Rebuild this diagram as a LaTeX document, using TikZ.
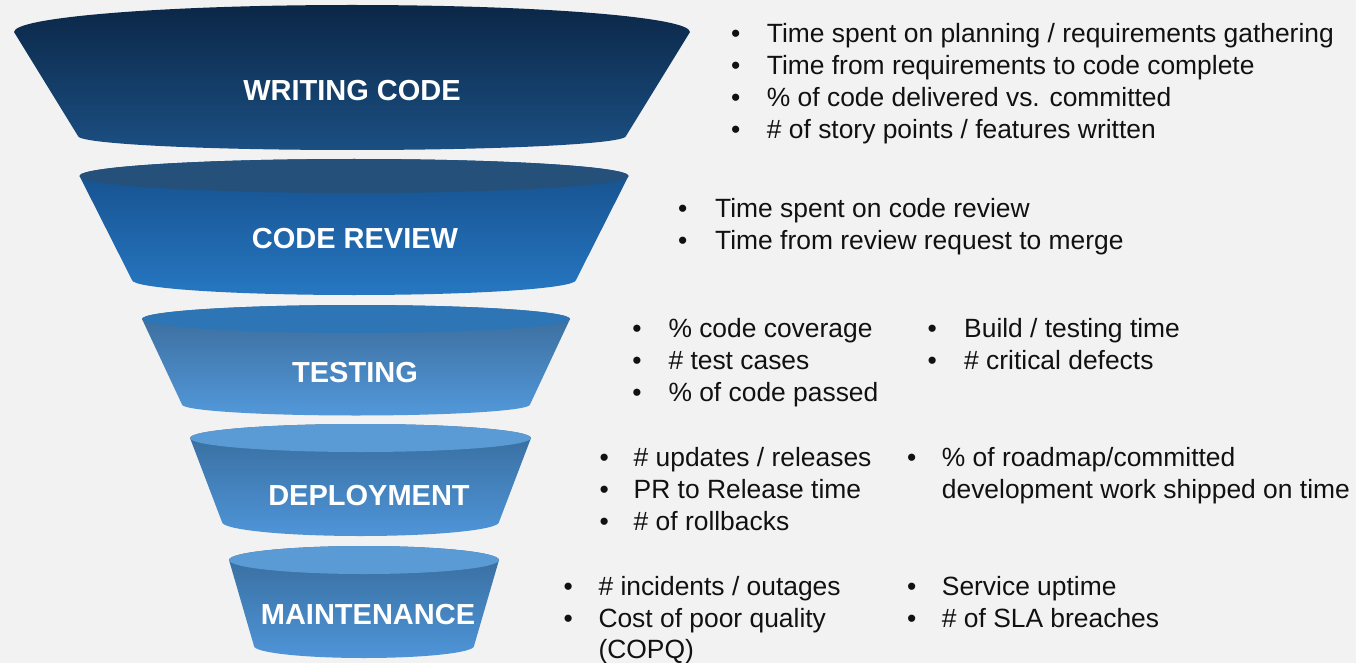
\documentclass[tikz,border=0pt]{standalone}
\usepackage{fontspec}
\setmainfont{Liberation Sans}
\definecolor{bg}{HTML}{F2F2F2}
\definecolor{ink}{HTML}{111111}
\definecolor{aTop}{HTML}{0B2747}
\definecolor{aBot}{HTML}{1B4F82}
\definecolor{bFace}{HTML}{24507A}
\definecolor{bTop}{HTML}{164E8A}
\definecolor{bBot}{HTML}{2677C2}
\definecolor{cFace}{HTML}{2E75B5}
\definecolor{cTop}{HTML}{3A6A98}
\definecolor{cBot}{HTML}{5298DA}
\definecolor{dFace}{HTML}{5A9BD5}
\definecolor{dTop}{HTML}{376B9B}
\definecolor{dBot}{HTML}{4E95D8}

% funnel band: centre x, rim y, rim half-width, rim half-height,
% foot y, foot half-width, foot half-height, top colour, bottom colour
\newcommand\funnelband[9]{%
  \shade[top color=#8, bottom color=#9]
    ({#1-#3},#2) -- ({#1-#6},#5)
    arc[start angle=180, end angle=360, x radius=#6pt, y radius=#7pt]
    -- ({#1+#3},#2)
    arc[start angle=0, end angle=180, x radius=#3pt, y radius=#4pt]
    -- cycle;}
\newcommand\bandface[5]{%
  \fill[#5] (#1,#2) ellipse[x radius=#3pt, y radius=#4pt];}

\begin{document}
\begin{tikzpicture}[x=1pt, y=-1pt,
  stage/.style={text=white, inner sep=0,
    font=\fontsize{29}{34}\selectfont\bfseries},
  item/.style={anchor=base west, text=ink, inner sep=0,
    font=\fontsize{26.4}{31.7}\selectfont},
  dot/.style={anchor=base, text=ink, inner sep=0,
    font=\fontsize{26.4}{31.7}\selectfont}]

\useasboundingbox (0,0) rectangle (1356,663);
\fill[bg] (0,0) rectangle (1356,663);

% funnel bands, widest first
\funnelband{352}{32}{338}{27}{136}{274}{14}{aTop}{aBot}
\funnelband{354}{176}{274.5}{17}{280}{222}{15}{bTop}{bBot}
\bandface{354}{176}{274.5}{17}{bFace}
\funnelband{356}{319}{214}{14}{404.5}{174}{11}{cTop}{cBot}
\bandface{356}{319}{214}{14}{cFace}
\funnelband{360.5}{438}{170.5}{14}{522}{138.5}{14}{dTop}{dBot}
\bandface{360.5}{438}{170.5}{14}{dFace}
\funnelband{364}{560}{135}{14}{646}{110}{12}{dTop}{dBot}
\bandface{364}{560}{135}{14}{dFace}

% stage names
\node[stage] (writing) at (352,91) {WRITING CODE};
\node[stage] (review) at (355,239) {CODE REVIEW};
\node[stage] (testing) at (355,373) {TESTING};
\node[stage] (deploy) at (369,496) {DEPLOYMENT};
\node[stage] (maint) at (368,615) {MAINTENANCE};

% writing code metrics
\node[dot] (w1d) at (735.7,42.5) {•};
\node[item] (w1) at (766.7,42.5) {Time spent on planning / requirements gathering};
\node[dot] (w2d) at (735.7,74.5) {•};
\node[item] (w2) at (766.7,74.5) {Time from requirements to code complete};
\node[dot] (w3d) at (735.7,106.5) {•};
\node[item] (w3) at (766.7,106.5) {\% of code delivered vs. committed};
\node[dot] (w4d) at (735.7,138.5) {•};
\node[item] (w4) at (766.7,138.5) {\# of story points / features written};

% code review metrics
\node[dot] (r1d) at (682.7,217) {•};
\node[item] (r1) at (715,217) {Time spent on code review};
\node[dot] (r2d) at (682.7,249) {•};
\node[item] (r2) at (715,249) {Time from review request to merge};

% testing metrics
\node[dot] (t1d) at (637,337.5) {•};
\node[item] (t1) at (668.3,337.5) {\% code coverage};
\node[dot] (t2d) at (637,369.5) {•};
\node[item] (t2) at (668.3,369.5) {\# test cases};
\node[dot] (t3d) at (637,401.5) {•};
\node[item] (t3) at (668.3,401.5) {\% of code passed};
\node[dot] (t4d) at (932.3,337.5) {•};
\node[item] (t4) at (964,337.5) {Build / testing time};
\node[dot] (t5d) at (932.3,369.5) {•};
\node[item] (t5) at (964,369.5) {\# critical defects};

% deployment metrics
\node[dot] (d1d) at (604.3,466) {•};
\node[item] (d1) at (633.5,466) {\# updates / releases};
\node[dot] (d2d) at (604.3,498) {•};
\node[item] (d2) at (633.5,498) {PR to Release time};
\node[dot] (d3d) at (604.3,530) {•};
\node[item] (d3) at (633.5,530) {\# of rollbacks};
\node[dot] (d4d) at (911.7,466) {•};
\node[item] (d4) at (941.7,466) {\% of roadmap/committed};
\node[item] (d4b) at (941.7,498) {development work shipped on time};

% maintenance metrics
\node[dot] (m1d) at (568.3,595) {•};
\node[item] (m1) at (598.3,595) {\# incidents / outages};
\node[dot] (m2d) at (568.3,627) {•};
\node[item] (m2) at (598.3,627) {Cost of poor quality};
\node[item] (m2b) at (598.3,658) {(COPQ)};
\node[dot] (m3d) at (911.7,595) {•};
\node[item] (m3) at (941.7,595) {Service uptime};
\node[dot] (m4d) at (911.7,627) {•};
\node[item] (m4) at (941.7,627) {\# of SLA breaches};
\end{tikzpicture}
\end{document}
